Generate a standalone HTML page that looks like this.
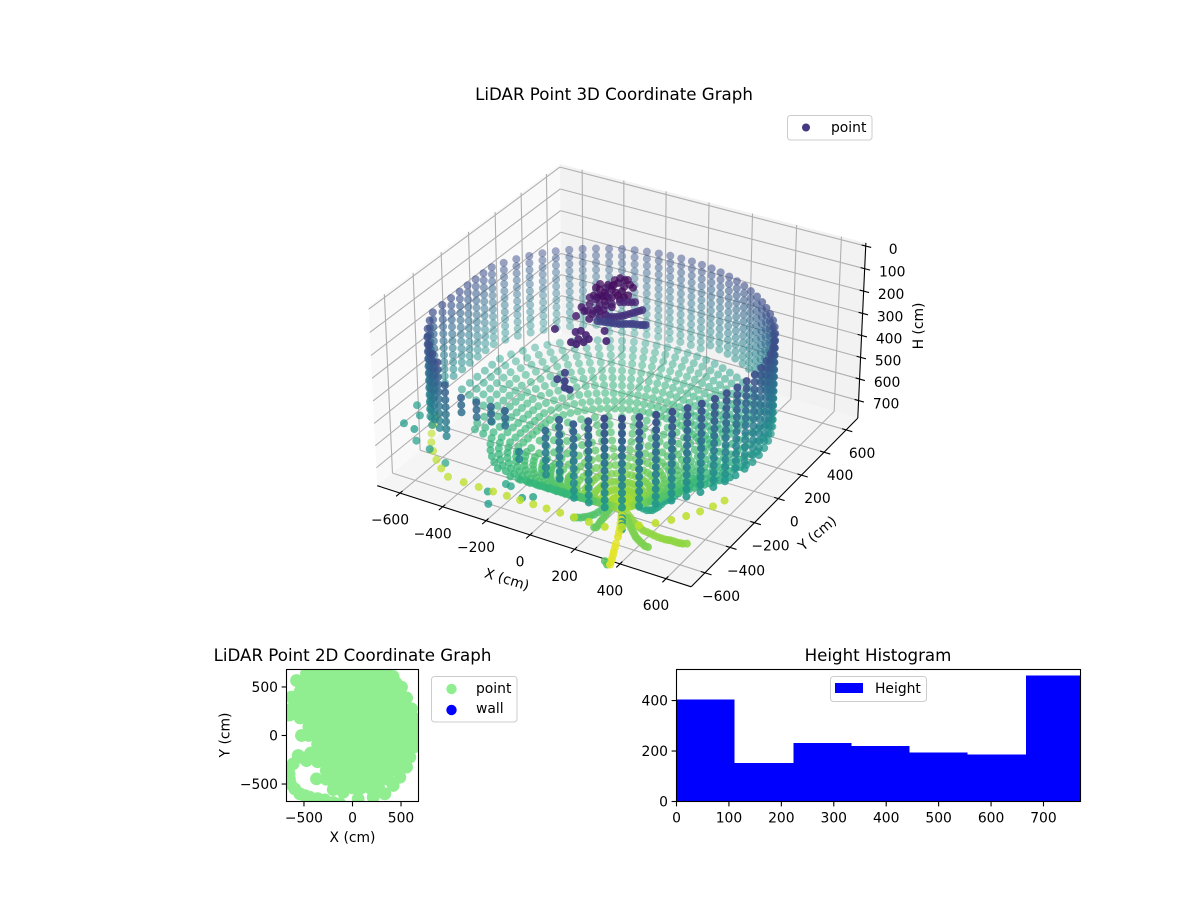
<!DOCTYPE html>
<html lang="en">
<head>
<meta charset="utf-8">
<title>LiDAR Point Graphs</title>
<style>
html,body{margin:0;padding:0;background:#fff;}
svg{display:block;font-family:"DejaVu Sans","Liberation Sans",sans-serif;fill:#000;}
text{font-size:13.89px;}
.title{font-size:16.67px;}
</style>
</head>
<body>
<svg id="fig" xmlns="http://www.w3.org/2000/svg" width="1200" height="900" viewBox="0 0 1200 900">
  <g id="g3d">
    <text class="title" x="614" y="100" text-anchor="middle">LiDAR Point 3D Coordinate Graph</text>
    <g id="panes"></g>
    <g id="grid3d"></g>
    <g id="axes3d"></g>
    <g id="points3d"></g>
    <text x="507" y="584" text-anchor="middle" transform="rotate(17 507 579)">X (cm)</text>
    <text x="817" y="538" text-anchor="middle" transform="rotate(-40 817 533)">Y (cm)</text>
    <text x="918" y="331" text-anchor="middle" transform="rotate(-90 918 326)">H (cm)</text>
    <g>
      <rect x="787.5" y="115.5" width="84.5" height="24.5" rx="3" fill="#fff" fill-opacity="0.8" stroke="#ccc"/>
      <circle cx="806" cy="127.5" r="4" fill="#443983"/>
      <text x="831" y="132">point</text>
    </g>
  </g>
  <g id="g2d">
    <text class="title" x="352.5" y="661" text-anchor="middle">LiDAR Point 2D Coordinate Graph</text>
    <clipPath id="clip2d"><rect x="286.5" y="669.5" width="132" height="132"/></clipPath>
    <g id="points2d" clip-path="url(#clip2d)"></g>
    <rect x="286.5" y="669.5" width="132" height="132" fill="none" stroke="#000" stroke-width="1.1"/>
    <g id="axes2d"></g>
    <text x="352.5" y="842" text-anchor="middle">X (cm)</text>
    <text x="224.5" y="740" text-anchor="middle" transform="rotate(-90 224.5 735)">Y (cm)</text>
    <g>
      <rect x="431.5" y="676.5" width="85.5" height="45.5" rx="3" fill="#fff" fill-opacity="0.8" stroke="#ccc"/>
      <circle cx="451.5" cy="689" r="5.2" fill="#90ee90"/>
      <text x="476" y="693">point</text>
      <circle cx="451.5" cy="710" r="5.2" fill="#0000ff"/>
      <text x="476" y="713">wall</text>
    </g>
  </g>
  <g id="ghist">
    <text class="title" x="878" y="661" text-anchor="middle">Height Histogram</text>
    <g id="bars" shape-rendering="crispEdges"></g>
    <rect x="676.5" y="669.5" width="404" height="132" fill="none" stroke="#000" stroke-width="1.1"/>
    <g id="axesHist"></g>
    <g>
      <rect x="830.5" y="676.5" width="96" height="25" rx="3" fill="#fff" fill-opacity="0.8" stroke="#ccc"/>
      <rect x="835" y="683" width="28" height="10" fill="#0000ff"/>
      <text x="875" y="693">Height</text>
    </g>
  </g>
</svg>
<script>
/* ---------- 3D scan data: polar readings per azimuth and ring ---------- */
const azimuthDeg = [0,5,10,15,20,25,30,35,40,45,50,55,60,65,70,75,80,85,90,95,100,105,110,115,120,125,130,135,140,145,150,155,160,165,170,175,180,185,190,195,200,205,210,215,220,225,230,235,240,245,250,255,260,265,270,275,280,285,290,295,300,305,310,315,320,325,330,335,340,345,350,355];
const wallRadius = [640,631,622,614,606,599,593,586,580,576,572,568,566,564,564,564,565,566,569,572,577,581,587,593,600,607,615,624,632,642,651,660,670,680,689,683,680,683,690,704,723,749,755,762,768,772,776,780,782,750,724,704,690,683,680,683,690,704,724,750,748,740,732,724,715,706,697,687,678,668,659,649];
const columnFirstRing = [0,0,0,0,0,0,0,0,0,0,0,0,0,0,0,0,0,0,0,0,0,0,0,0,0,0,0,0,0,0,0,0,0,0,0,0,0,0,0,0,0,0,0,0,0,0,0,0,2,3,3,3,3,8,8,4,2,2,1,0,0,0,0,0,0,0,0,0,0,0,0,0];
const columnLastRing = [12,12,12,12,12,11,11,11,11,11,11,11,11,11,11,11,11,12,12,12,12,12,12,12,12,12,11,11,11,11,11,11,11,11,11,11,11,11,11,11,11,11,11,11,11,11,9,9,9,5,5,5,5,9,7,10,10,12,12,12,12,12,12,12,12,12,12,12,12,12,12,12];
const columnFloorRing = [13,13,13,13,13,13,13,13,13,13,13,13,13,13,13,13,13,13,13,13,13,13,13,13,13,13,13,13,13,13,13,13,13,13,13,13,13,13,13,13,17,17,17,19,19,19,19,19,20,20,20,20,20,20,20,28,28,33,33,33,33,33,33,33,33,33,26,26,13,13,13,13];
const columnFloorLast = [34,0,34,0,34,0,34,22,34,22,34,22,34,22,34,22,34,22,34,22,34,22,34,22,34,22,34,22,34,22,34,22,34,22,34,22,34,22,34,22,34,28,34,28,34,28,34,28,34,28,34,28,34,28,34,34,34,34,34,34,34,34,34,34,34,34,34,34,34,0,34,0];
const ringHeight = [190,222,254,286,318,350,382,414,446,478,510,542,574,580,584,587,590,594,597,600,604,607,610,614,617,620,624,627,630,634,637,640,644,647,650];
const ringScale = [1,1,1,1,1,1,1,1,1,1,1,1,1,0.95,0.905,0.86,0.815,0.77,0.725,0.68,0.635,0.59,0.545,0.5,0.455,0.41,0.365,0.32,0.275,0.23,0.185,0.14,0.1,0.06,0.03];
const ringCenterX = [0,0,0,0,0,0,0,0,0,0,0,0,0,16,30,44,58,73,87,101,115,130,144,158,172,186,201,215,229,243,258,272,284,297,307];
const ringCenterY = [0,0,0,0,0,0,0,0,0,0,0,0,0,-27,-52,-77,-101,-126,-151,-175,-200,-225,-249,-274,-299,-323,-348,-373,-397,-422,-447,-471,-493,-515,-532];
const ringShade = [0.24,0.264,0.288,0.312,0.336,0.36,0.384,0.408,0.432,0.456,0.48,0.504,0.53,0.56,0.58,0.6,0.62,0.63,0.64,0.65,0.66,0.67,0.68,0.69,0.7,0.71,0.72,0.74,0.76,0.78,0.8,0.82,0.84,0.86,0.88];
const rimAzimuthDeg = [205,210,215,220,225,230,235,240,245,250,255,260,265,270,275,280,285,290,295,300,305,310,315,320,325,330,335];
const rimRadius = [749,755,762,768,772,776,780,782,750,724,704,690,683,680,683,690,704,724,750,748,740,732,724,715,706,697,687];
const rimHeight = 660;
const rimShade = 0.9;
/* ---------- 3D local clusters ---------- */
const blobCoreX = [-17,-6,31,31,-11,-22,-51,-26,13,21,55,67,53,-40,-43,-72,-48,-13,15,19,-30,4,-23,-74,-7,-26,33,62];
const blobCoreY = [-1,33,9,-54,-60,-94,-84,-142,-155,-114,-112,-69,-6,13,-34,-78,-136,-125,-73,-16,37,39,-23,-43,-112,-34,-89,-91];
const blobLowX = [48,44,-41,-23,23,59,-6,-27,-38,-26,-26,8,8,14,-16,20,71,32,35,60,32,-53];
const blobLowY = [-161,-218,-240,-311,-267,-273,-255,-124,-58,-159,-204,-185,-122,-244,-261,-223,-247,-305,-232,-182,-180,-157];
const blobRidgeX = [67,80,94,106,118];
const blobRidgeY = [-132,-124,-116,-110,-103];
const swooshUpperX = [86,98,109,119,129,137,145,152,160,167,173];
const swooshUpperY = [-257,-250,-244,-233,-223,-210,-196,-182,-169,-156,-144];
const swooshLowerX = [67,81,95,108,122,136,150,162,174,186,197,211,225,234,242];
const swooshLowerY = [-304,-300,-297,-293,-290,-287,-283,-276,-269,-262,-256,-252,-249,-244,-239];
const lowerGroupX = [52,85,76,110,39,105,-41,175,130,64,89];
const lowerGroupY = [-402,-420,-461,-441,-419,-471,-438,-421,-357,-495,-498];
const darkStackX = [71,103,127,71,151];
const darkStackY = [-553,-607,-648,-608,-652];
const petalLeftX = [230,233,236,238,241,243,246,249,252,255,258,259,252];
const petalLeftY = [-435,-455,-476,-496,-516,-536,-556,-576,-597,-612,-628,-645,-649];
const tailUpperX = [260,275,291,302,314,327,340,352,364];
const tailUpperY = [-451,-477,-504,-527,-551,-578,-605,-633,-661];
const tailLowerX = [326,336,346,356,366,372,379];
const tailLowerY = [-611,-636,-661,-685,-710,-728,-747];
const tailEndX = [369,350];
const tailEndY = [-752,-736];
const petalMidX = [326,344,362,378,395,410,424,438,452,467,483,497];
const petalMidY = [-528,-548,-568,-584,-601,-615,-629,-638,-647,-655,-664,-665];
const petalRightX = [319,338,357,374,392,410,427,444,461,478,496,511,526,538,549,563,577,588,599,613];
const petalRightY = [-507,-521,-536,-547,-559,-567,-575,-577,-580,-584,-587,-587,-587,-585,-582,-582,-583,-581,-579,-571];
const petalArcX = [150,161,173,182,192,200,207,211,215,218,222,225,227];
const petalArcY = [-629,-622,-616,-606,-597,-584,-571,-551,-531,-511,-491,-472,-454];
const tealArcX = [289,310,331,349,366,376,385,389,393,394,394,400,406,410,413,416,420,422,424,424,424];
const tealArcY = [-418,-428,-438,-441,-444,-438,-433,-417,-402,-380,-358,-342,-326,-302,-278,-254,-230,-202,-175,-149,-123];
const tealStemX = [299,312,325,338,351];
const tealStemY = [-518,-540,-563,-586,-609];
const strayFloorX = [-200,-168,-143,-61,-28,-455];
const strayFloorY = [-690,-609,-613,-663,-636,-597];
const strayWallX = [-608,-203,-640,-587,-549,-589,-509];
const strayWallY = [-649,-684,-508,-568,-665,-596,-623];
const strayWallH = [500,720,500,500,500,600,600];
/* ---------- 3D axes ---------- */
const xTickValues = [-600,-400,-200,0,200,400,600];
const xTickLabels = ['\u2212600','\u2212400','\u2212200','0','200','400','600'];
const yTickValues = [-600,-400,-200,0,200,400,600];
const yTickLabels = ['\u2212600','\u2212400','\u2212200','0','200','400','600'];
const hTickValues = [0,100,200,300,400,500,600,700];
const hTickLabels = ['0','100','200','300','400','500','600','700'];
/* ---------- 2D plan view: row lists plus outline circles ---------- */
const planRowY = [630,540,450,360,270,180,90,0,-90,-180,-270,-360,-450,-540];
const planRowX = [
  [-450,-360,-270,-180,-90,0,90,180,270,360],
  [-540,-450,-360,-270,-180,-90,0,90,180,270,360,450],
  [-540,-450,-360,-270,-180,-90,0,90,180,270,360,450],
  [-540,-450,-360,-270,-180,-90,0,90,180,270,360,450,540],
  [-540,-450,-360,-270,-180,-90,0,90,180,270,360,450,540],
  [-540,-450,-360,-270,-180,-90,0,90,180,270,360,450,540,630],
  [-450,-360,-270,-180,-90,0,90,180,270,360,450,540,630],
  [-450,-360,-270,-180,-90,0,90,180,270,360,450,540,630],
  [-360,-270,-180,-90,0,90,180,270,360,450,540,630],
  [-360,-270,-180,-90,0,90,180,270,360,450,540],
  [-360,-270,-180,-90,0,90,180,270,360,450,540],
  [-270,-180,-90,0,90,180,270,360,450],
  [-270,-180,-90,0,90,180,270,360],
  [-180,-90,0,90,180,270]
];
const planEdgeX = [419,505,557,608,643,643,632,591,557,488,419,333,213,58,-96,-199,-371,-474,-560,-526,-629,-629,-577,-474,-337,-131,76,282,-612,-653,-639,-543,-440,-285,-131,-650,-660,-650,-595,-490,-360,-200,-510,-430];
const planEdgeY = [608,498,388,275,172,69,-120,-223,-326,-430,-515,-601,-636,-653,-584,-557,-447,-258,-206,0,275,395,567,636,653,653,653,653,-292,-395,-498,-601,-636,-663,-704,210,-340,-450,-550,-620,-650,-690,-230,-180];
const planXTicks = [-500,0,500];
const planXTickLabels = ['\u2212500','0','500'];
const planYTicks = [500,0,-500];
const planYTickLabels = ['500','0','\u2212500'];
/* ---------- Histogram ---------- */
const histEdges = [0,110.5,223,333.5,444,554.6,667,770.6];
const histCounts = [405,152,231,219,195,187,500];
const histXTicks = [0,100,200,300,400,500,600,700];
const histXTickLabels = ['0','100','200','300','400','500','600','700'];
const histYTicks = [0,200,400];
const histYTickLabels = ['0','200','400'];

const SVGNS = 'http://www.w3.org/2000/svg';
const viridisStops = [[68,1,84],[72,40,120],[62,73,137],[49,104,142],[38,130,142],[31,158,137],[53,183,121],[110,206,88],[181,222,43],[253,231,37]];
function viridis(v){
  const t = Math.max(0, Math.min(1, v)) * (viridisStops.length - 1);
  const i = Math.min(Math.floor(t), viridisStops.length - 2);
  const f = t - i;
  const a = viridisStops[i], b = viridisStops[i + 1];
  return 'rgb(' + [0,1,2].map(k => Math.round(a[k] + (b[k] - a[k]) * f)).join(',') + ')';
}

/* camera: elevation 30, azimuth -60, distance 10 */
const PANE = 708, H_TOP = -14, H_BOTTOM = 782;
function project(x, y, h){
  const A = 0.6 * x / PANE, B = 0.6 * y / PANE, C = 0.3375 * (1 - 2 * h / H_BOTTOM);
  const xp = 0.866025 * A + 0.5 * B;
  const yp = -0.25 * A + 0.433013 * B + 0.866025 * C;
  const w = 0.433013 * A - 0.75 * B + 0.5 * C;
  const d = 10 - w;
  return {sx: 622 + 2980 * xp / d, sy: 365.6 - 2980 * yp / d, w: w};
}

function addLine(parent, x1, y1, x2, y2, stroke, width, name){
  const el = document.createElementNS(SVGNS, 'line');
  el.setAttribute('x1', x1.toFixed(2));
  el.setAttribute('y1', y1.toFixed(2));
  el.setAttribute('x2', x2.toFixed(2));
  el.setAttribute('y2', y2.toFixed(2));
  el.setAttribute('stroke', stroke);
  el.setAttribute('stroke-width', width);
  
  
  parent.appendChild(el);
}
function addLine3(parent, a, b, stroke, width, name){
  const p = project(a[0], a[1], a[2]), q = project(b[0], b[1], b[2]);
  addLine(parent, p.sx, p.sy, q.sx, q.sy, stroke, width, name);
}
function addText(parent, x, y, str, anchor, name){
  const el = document.createElementNS(SVGNS, 'text');
  el.setAttribute('x', x.toFixed(2));
  el.setAttribute('y', y.toFixed(2));
  el.setAttribute('text-anchor', anchor);
  
  
  el.textContent = str;
  parent.appendChild(el);
}

/* panes */
const panes = document.getElementById('panes');
function addPane(corners, fill, name){
  const el = document.createElementNS(SVGNS, 'polygon');
  el.setAttribute('points', corners.map(c => { const p = project(c[0], c[1], c[2]); return p.sx.toFixed(2) + ',' + p.sy.toFixed(2); }).join(' '));
  el.setAttribute('fill', fill);
  
  
  panes.appendChild(el);
}
addPane([[-PANE,-PANE,H_TOP],[-PANE,PANE,H_TOP],[-PANE,PANE,H_BOTTOM],[-PANE,-PANE,H_BOTTOM]], '#f9f9f9', 'pane-x');
addPane([[-PANE,PANE,H_TOP],[PANE,PANE,H_TOP],[PANE,PANE,H_BOTTOM],[-PANE,PANE,H_BOTTOM]], '#f2f2f2', 'pane-y');
addPane([[-PANE,-PANE,H_BOTTOM],[-PANE,PANE,H_BOTTOM],[PANE,PANE,H_BOTTOM],[PANE,-PANE,H_BOTTOM]], '#f5f5f5', 'pane-floor');

/* grid */
const grid3d = document.getElementById('grid3d');
const GRID = '#b0b0b0';
xTickValues.forEach(v => {
  addLine3(grid3d, [v,PANE,H_TOP], [v,PANE,H_BOTTOM], GRID, 1.1, 'grid-line-x');
  addLine3(grid3d, [v,-PANE,H_BOTTOM], [v,PANE,H_BOTTOM], GRID, 1.1, 'grid-line-x');
});
yTickValues.forEach(v => {
  addLine3(grid3d, [-PANE,v,H_TOP], [-PANE,v,H_BOTTOM], GRID, 1.1, 'grid-line-y');
  addLine3(grid3d, [-PANE,v,H_BOTTOM], [PANE,v,H_BOTTOM], GRID, 1.1, 'grid-line-y');
});
hTickValues.forEach(v => {
  addLine3(grid3d, [-PANE,-PANE,v], [-PANE,PANE,v], GRID, 1.1, 'grid-line-h');
  addLine3(grid3d, [-PANE,PANE,v], [PANE,PANE,v], GRID, 1.1, 'grid-line-h');
});

/* axis lines, ticks, labels */
const axes3d = document.getElementById('axes3d');
addLine3(axes3d, [-PANE,-PANE,H_BOTTOM], [PANE,-PANE,H_BOTTOM], '#000', 1.1, 'x-axis-line');
addLine3(axes3d, [PANE,-PANE,H_BOTTOM], [PANE,PANE,H_BOTTOM], '#000', 1.1, 'y-axis-line');
addLine3(axes3d, [PANE,PANE,H_BOTTOM], [PANE,PANE,H_TOP], '#000', 1.1, 'h-axis-line');
xTickValues.forEach((v, i) => {
  addLine3(axes3d, [v,-PANE-28,H_BOTTOM], [v,-PANE+18,H_BOTTOM], '#000', 1.1, 'x-tick');
  const p = project(v, -PANE, H_BOTTOM);
  addText(axes3d, p.sx - 10, p.sy + 31.5, xTickLabels[i], 'middle', 'x-tick-label');
});
yTickValues.forEach((v, i) => {
  addLine3(axes3d, [PANE-18,v,H_BOTTOM], [PANE+28,v,H_BOTTOM], '#000', 1.1, 'y-tick');
  const p = project(PANE, v, H_BOTTOM);
  addText(axes3d, p.sx + 16, p.sy + 28, yTickLabels[i], 'middle', 'y-tick-label');
});
hTickValues.forEach((v, i) => {
  addLine3(axes3d, [PANE-18,PANE,v], [PANE+24,PANE,v], '#000', 1.1, 'h-tick');
  const p = project(PANE, PANE, v);
  addText(axes3d, p.sx + 27.5, p.sy + 8, hTickLabels[i], 'middle', 'h-tick-label');
});

/* assemble 3D points */
const cloud = [];
azimuthDeg.forEach((deg, j) => {
  const rad = deg * Math.PI / 180;
  ringHeight.forEach((h, i) => {
    const inWall = i >= columnFirstRing[j] && i <= columnLastRing[j];
    const inFloor = i >= columnFloorRing[j] && i <= columnFloorLast[j];
    if (!inWall && !inFloor) return;
    cloud.push({
      x: ringCenterX[i] + ringScale[i] * wallRadius[j] * Math.cos(rad),
      y: ringCenterY[i] + ringScale[i] * wallRadius[j] * Math.sin(rad),
      h: h,
      c: ringShade[i]
    });
  });
});
rimAzimuthDeg.forEach((deg, j) => {
  const rad = deg * Math.PI / 180;
  cloud.push({x: rimRadius[j] * Math.cos(rad), y: rimRadius[j] * Math.sin(rad), h: rimHeight, c: rimShade});
});
function addGroup(xs, ys, h, shade){
  xs.forEach((x, i) => cloud.push({x: x, y: ys[i], h: h, c: shade}));
}
addGroup(blobCoreX, blobCoreY, 30, 0.03);
addGroup(blobLowX, blobLowY, 30, 0.07);
addGroup(blobRidgeX, blobRidgeY, 30, 0.1);
addGroup(swooshUpperX, swooshUpperY, 30, 0.14);
addGroup(swooshLowerX, swooshLowerY, 30, 0.2);
addGroup(lowerGroupX, lowerGroupY, 30, 0.1);
addGroup(darkStackX, darkStackY, 130, 0.2);
addGroup(petalLeftX, petalLeftY, 700, 0.76);
addGroup(tailUpperX, tailUpperY, 700, 0.95);
addGroup(tailLowerX, tailLowerY, 770, 0.96);
addGroup(tailEndX, tailEndY, 770, 0.74);
addGroup(petalMidX, petalMidY, 700, 0.8);
addGroup(petalRightX, petalRightY, 700, 0.83);
addGroup(petalArcX, petalArcY, 700, 0.72);
addGroup(tealArcX, tealArcY, 700, 0.58);
addGroup(tealStemX, tealStemY, 700, 0.53);
addGroup(strayFloorX, strayFloorY, 660, 0.58);
strayWallX.forEach((x, i) => cloud.push({x: x, y: strayWallY[i], h: strayWallH[i], c: 0.55}));

const placed = cloud.map(pt => { const p = project(pt.x, pt.y, pt.h); return {sx: p.sx, sy: p.sy, w: p.w, c: pt.c}; });
placed.sort((a, b) => a.w - b.w);
const wMin = placed[0].w, wMax = placed[placed.length - 1].w;
const points3d = document.getElementById('points3d');
placed.forEach(p => {
  const el = document.createElementNS(SVGNS, 'circle');
  el.setAttribute('cx', p.sx.toFixed(2));
  el.setAttribute('cy', p.sy.toFixed(2));
  el.setAttribute('r', '4');
  el.setAttribute('fill', viridis(p.c));
  el.setAttribute('fill-opacity', (0.38 + 0.62 * (p.w - wMin) / (wMax - wMin)).toFixed(3));
  
  
  points3d.appendChild(el);
});

/* 2D plan */
function plan2dX(x){ return 352.5 + x * 0.09706; }
function plan2dY(y){ return 735.5 - y * 0.09706; }
const points2d = document.getElementById('points2d');
function addPlanPoint(x, y){
  const el = document.createElementNS(SVGNS, 'circle');
  el.setAttribute('cx', plan2dX(x).toFixed(2));
  el.setAttribute('cy', plan2dY(y).toFixed(2));
  el.setAttribute('r', '6.4');
  el.setAttribute('fill', '#90ee90');
  
  
  points2d.appendChild(el);
}
planRowY.forEach((y, r) => planRowX[r].forEach(x => addPlanPoint(x, y)));
planEdgeX.forEach((x, i) => addPlanPoint(x, planEdgeY[i]));
const axes2d = document.getElementById('axes2d');
planXTicks.forEach((v, i) => {
  addLine(axes2d, plan2dX(v), 801.5, plan2dX(v), 806.4, '#000', 1.1, 'x-tick-2d');
  addText(axes2d, plan2dX(v), 822.5, planXTickLabels[i], 'middle', 'x-tick-label-2d');
});
planYTicks.forEach((v, i) => {
  addLine(axes2d, 281.6, plan2dY(v), 286.5, plan2dY(v), '#000', 1.1, 'y-tick-2d');
  addText(axes2d, 278, plan2dY(v) + 5, planYTickLabels[i], 'end', 'y-tick-label-2d');
});

/* Histogram */
function histX(v){ return 676.5 + v * 404 / 770.6; }
function histY(v){ return 801.5 - v * 132 / 523; }
const bars = document.getElementById('bars');
histCounts.forEach((n, i) => {
  const el = document.createElementNS(SVGNS, 'rect');
  el.setAttribute('x', histX(histEdges[i]).toFixed(2));
  el.setAttribute('y', histY(n).toFixed(2));
  el.setAttribute('width', (histX(histEdges[i + 1]) - histX(histEdges[i])).toFixed(2));
  el.setAttribute('height', (histY(0) - histY(n)).toFixed(2));
  el.setAttribute('fill', '#0000ff');
  
  
  bars.appendChild(el);
});
const axesHist = document.getElementById('axesHist');
histXTicks.forEach((v, i) => {
  addLine(axesHist, histX(v), 801.5, histX(v), 806.4, '#000', 1.1, 'x-tick-histogram');
  addText(axesHist, histX(v), 822.5, histXTickLabels[i], 'middle', 'x-tick-label-histogram');
});
histYTicks.forEach((v, i) => {
  addLine(axesHist, 671.6, histY(v), 676.5, histY(v), '#000', 1.1, 'y-tick-histogram');
  addText(axesHist, 668, histY(v) + 5, histYTickLabels[i], 'end', 'y-tick-label-histogram');
});
</script>
</body>
</html>
